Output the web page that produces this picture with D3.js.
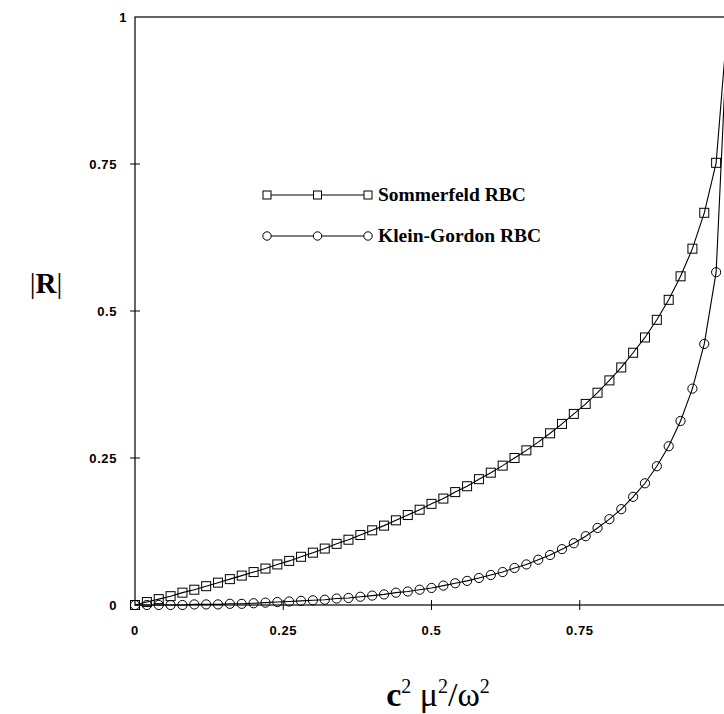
<!DOCTYPE html>
<html>
<head>
<meta charset="utf-8">
<script src="https://cdn.jsdelivr.net/npm/d3@7"></script>
<style>
  body { margin: 0; background: #fff; }
  svg { display: block; }
</style>
</head>
<body>
<svg id="chart" width="724" height="714"></svg>
<script>
// values
var xs = [0, 0.02, 0.04, 0.06, 0.08, 0.10, 0.12, 0.14, 0.16, 0.18,
          0.20, 0.22, 0.24, 0.26, 0.28, 0.30, 0.32, 0.34, 0.36, 0.38,
          0.40, 0.42, 0.44, 0.46, 0.48, 0.50, 0.52, 0.54, 0.56, 0.58,
          0.60, 0.62, 0.64, 0.66, 0.68, 0.70, 0.72, 0.74, 0.76, 0.78,
          0.80, 0.82, 0.84, 0.86, 0.88, 0.90, 0.92, 0.94, 0.96, 0.98, 1.0]

var sommerfeld = [0, 0.005, 0.010, 0.015, 0.021, 0.026, 0.032, 0.038, 0.044, 0.050,
                  0.056, 0.062, 0.069, 0.075, 0.082, 0.089, 0.096, 0.104, 0.111, 0.119,
                  0.127, 0.135, 0.144, 0.153, 0.162, 0.172, 0.181, 0.192, 0.202, 0.214,
                  0.225, 0.237, 0.250, 0.263, 0.277, 0.292, 0.308, 0.325, 0.342, 0.361,
                  0.382, 0.404, 0.429, 0.455, 0.485, 0.519, 0.559, 0.606, 0.667, 0.752, 1.0]

var kleinGordon = [0, 0.000, 0.000, 0.000, 0.000, 0.001, 0.001, 0.001, 0.002, 0.002,
                   0.003, 0.004, 0.005, 0.006, 0.007, 0.008, 0.009, 0.011, 0.012, 0.014,
                   0.016, 0.018, 0.021, 0.023, 0.026, 0.029, 0.033, 0.037, 0.041, 0.046,
                   0.051, 0.056, 0.063, 0.069, 0.077, 0.085, 0.095, 0.105, 0.117, 0.131,
                   0.146, 0.163, 0.184, 0.207, 0.236, 0.270, 0.313, 0.368, 0.444, 0.566, 1.0]

var xTicks = [0, 0.25, 0.5, 0.75]
var yTicks = [0, 0.25, 0.5, 0.75, 1]
var seriesNames = ["Sommerfeld RBC", "Klein-Gordon RBC"]

var svg = d3.select("#chart"),
    margin = {top: 17, left: 135, bottom: 109, right: -4},
    width = +svg.attr("width"),
    height = +svg.attr("height")

var x = d3.scaleLinear()
    .domain([0, 1])
    .range([margin.left, width - margin.right])

var y = d3.scaleLinear()
    .domain([0, 1])
    .range([height - margin.bottom, margin.top])

var series = [
    {name: seriesNames[0], shape: "square", values: sommerfeld},
    {name: seriesNames[1], shape: "circle", values: kleinGordon}
]

// frame
svg.append("rect")
    .attr("x", x(0))
    .attr("y", y(1))
    .attr("width", x(1) - x(0))
    .attr("height", y(0) - y(1))
    .attr("fill", "none")
    .attr("stroke", "#000")
    .attr("stroke-width", 1.2)

// cross ticks
var tickLen = 5
svg.append("g").selectAll("line")
    .data(xTicks.slice(1))
  .enter().append("line")
    .attr("x1", d => x(d)).attr("x2", d => x(d))
    .attr("y1", y(0) - tickLen).attr("y2", y(0) + tickLen)
    .attr("stroke", "#000")

svg.append("g").selectAll("line")
    .data(yTicks.slice(1, -1))
  .enter().append("line")
    .attr("y1", d => y(d)).attr("y2", d => y(d))
    .attr("x1", x(0) - tickLen).attr("x2", x(0) + tickLen)
    .attr("stroke", "#000")

var tickFont = "'Liberation Sans', Arial, sans-serif"

svg.append("g").selectAll("text")
    .data(xTicks)
  .enter().append("text")
    .attr("x", d => x(d))
    .attr("y", y(0) + 30)
    .attr("text-anchor", "middle")
    .style("font-family", tickFont)
    .style("font-size", "13px")
    .style("font-weight", "bold")
    .style("letter-spacing", "0.6px")
    .text(d => d)

svg.append("g").selectAll("text")
    .data(yTicks)
  .enter().append("text")
    .attr("x", d => d == 1 ? x(0) - 8 : x(0) - 18)
    .attr("y", d => y(d) + 5)
    .attr("text-anchor", "end")
    .style("font-family", tickFont)
    .style("font-size", "13px")
    .style("font-weight", "bold")
    .style("letter-spacing", "0.6px")
    .text(d => d)

// curves
var line = d3.line()
    .x((d, i) => x(xs[i]))
    .y(d => y(d))

var marks = svg.append("g")

series.forEach(function(s) {
    marks.append("path")
        .datum(s.values)
        .attr("fill", "none")
        .attr("stroke", "#000")
        .attr("stroke-width", 1.1)
        .attr("d", line)

    var pts = s.values.map((v, i) => ({x: xs[i], y: v})).filter(d => d.x < 1)

    if (s.shape == "square") {
        marks.append("g").selectAll("rect")
            .data(pts)
          .enter().append("rect")
            .attr("x", d => x(d.x) - 4.5)
            .attr("y", d => y(d.y) - 4.5)
            .attr("width", 9)
            .attr("height", 9)
            .attr("fill", "none")
            .attr("stroke", "#000")
            .attr("stroke-width", 1)
    } else {
        marks.append("g").selectAll("circle")
            .data(pts)
          .enter().append("circle")
            .attr("cx", d => x(d.x))
            .attr("cy", d => y(d.y))
            .attr("r", 4.6)
            .attr("fill", "none")
            .attr("stroke", "#000")
            .attr("stroke-width", 1)
    }
})

// legend
var legend = svg.append("g")
var lx0 = 267, lx1 = 368, ly = [195, 236]

series.forEach(function(s, i) {
    var g = legend.append("g").attr("transform", `translate(0,${ly[i]})`)
    g.append("line")
        .attr("x1", lx0).attr("x2", lx1)
        .attr("stroke", "#000")
    ;[lx0, (lx0 + lx1) / 2, lx1].forEach(function(px) {
        if (s.shape == "square") {
            g.append("rect")
                .attr("x", px - 4).attr("y", -4)
                .attr("width", 8).attr("height", 8)
                .attr("fill", "#fff").attr("stroke", "#000")
        } else {
            g.append("circle")
                .attr("cx", px).attr("r", 4.2)
                .attr("fill", "#fff").attr("stroke", "#000")
        }
    })
    g.append("text")
        .attr("x", 378)
        .attr("y", 6)
        .style("font-family", "'Liberation Serif', 'Times New Roman', serif")
        .style("font-size", "19.5px")
        .style("font-weight", "bold")
        .text(s.name)
})

// axis titles
var yl = svg.append("text")
    .attr("x", 46)
    .attr("y", 293)
    .attr("text-anchor", "middle")
    .style("font-family", "'Liberation Serif', 'Times New Roman', serif")
    .style("font-size", "29px")
yl.append("tspan").text("|")
yl.append("tspan").style("font-weight", "bold").text("R")
yl.append("tspan").text("|")

var xl = svg.append("text")
    .attr("x", 438)
    .attr("y", 706)
    .attr("text-anchor", "middle")
    .style("font-family", "'Liberation Serif', 'Times New Roman', serif")
    .style("font-size", "34px")
xl.append("tspan").style("font-weight", "bold").text("c")
xl.append("tspan").attr("dy", -13).style("font-size", "20px").text("2")
xl.append("tspan").attr("dy", 13).text(" \u03bc")
xl.append("tspan").attr("dy", -13).style("font-size", "20px").text("2")
xl.append("tspan").attr("dy", 13).text("/\u03c9")
xl.append("tspan").attr("dy", -13).style("font-size", "20px").text("2")
</script>
</body>
</html>
